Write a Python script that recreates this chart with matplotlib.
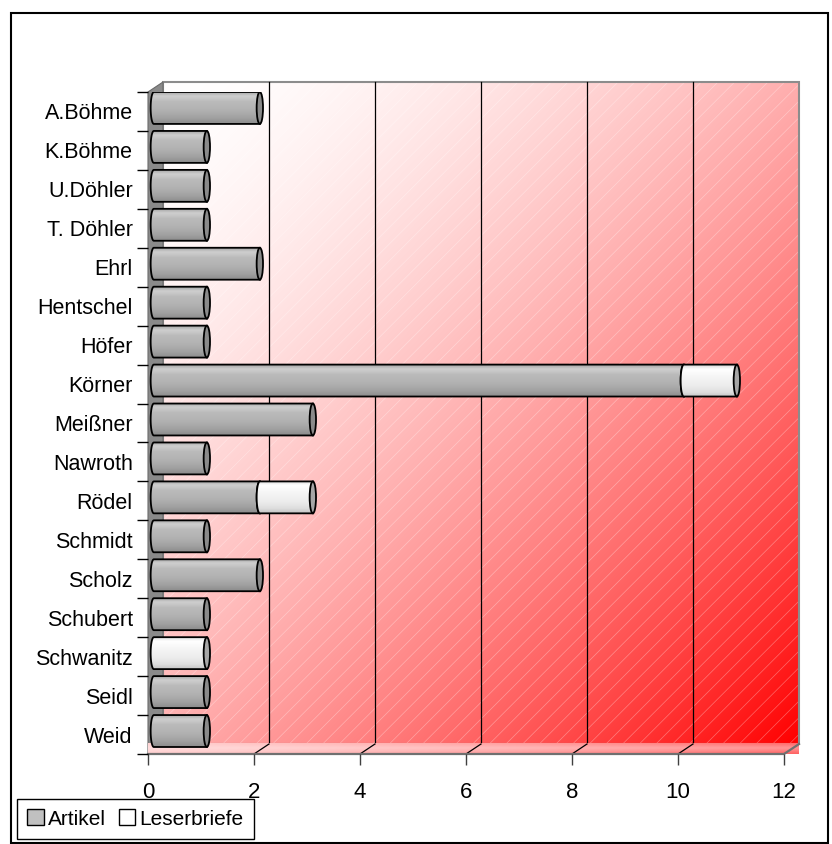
import numpy as np
import matplotlib
matplotlib.use('Agg')
import matplotlib.pyplot as plt
from matplotlib.patches import Rectangle, Polygon, PathPatch, Ellipse, Patch
from matplotlib.path import Path
from matplotlib.colors import LinearSegmentedColormap

plt.rcParams['font.family'] = ['Liberation Sans', 'DejaVu Sans']
plt.rcParams['hatch.linewidth'] = 0.5

# data
names = ['A.Böhme', 'K.Böhme', 'U.Döhler', 'T. Döhler', 'Ehrl', 'Hentschel', 'Höfer',
         'Körner', 'Meißner', 'Nawroth', 'Rödel', 'Schmidt', 'Scholz', 'Schubert',
         'Schwanitz', 'Seidl', 'Weid']
artikel = [2, 1, 1, 1, 2, 1, 1, 10, 3, 1, 2, 1, 2, 1, 0, 1, 1]
leserbriefe = [0, 0, 0, 0, 0, 0, 0, 1, 0, 0, 1, 0, 0, 0, 1, 0, 0]
series = ['Artikel', 'Leserbriefe']
xticks = [0, 2, 4, 6, 8, 10, 12]

W, H = 832, 844
fig = plt.figure(figsize=(W / 100, H / 100), dpi=100)
# front plane of the 3d box: x 148..784 px, y 92..754 px
ax = fig.add_axes([148 / W, (H - 754) / H, 636 / W, 662 / H])
n = len(names)
xmax = 12
ax.set_xlim(0, xmax)
ax.set_ylim(0, n)

ddx = 15 / 53.0      # depth offset in x units
ddy = 10 / 38.94     # depth offset in row units

# back wall: white -> red gradient
gx, gy = np.meshgrid(np.linspace(0, 1, 300), np.linspace(0, 1, 300))
t = ((gx + gy) / 2) ** 1.65
wall = np.dstack([np.ones_like(t), 1 - t, 1 - t])
ax.imshow(wall, extent=[ddx, xmax + ddx, ddy, n + ddy], aspect='auto',
          zorder=0.5, clip_on=False, interpolation='bilinear')
ax.add_patch(Rectangle((ddx, ddy), xmax, n, facecolor='none',
                       edgecolor=(1, 1, 1, 0.35), hatch='//', lw=0,
                       zorder=0.6, clip_on=False))
ax.add_patch(Rectangle((ddx, ddy), xmax, n, facecolor='none',
                       edgecolor='#8c8c8c', lw=1.5, zorder=0.65, clip_on=False))
for xv in xticks[1:-1]:
    ax.plot([xv + ddx, xv + ddx], [ddy, n + ddy], color='black', lw=0.9,
            zorder=0.7, clip_on=False)

# left wall
ax.add_patch(Polygon([(0, 0), (0, n), (ddx, n + ddy), (ddx, ddy)], closed=True,
                     facecolor='#8a8a8a', edgecolor='#6a6a6a', lw=0.8,
                     zorder=0.8, clip_on=False))

# floor
floor = Polygon([(0, 0), (xmax, 0), (xmax + ddx, ddy), (ddx, ddy)], closed=True,
                facecolor='none', edgecolor='none', zorder=0.9, clip_on=False)
ax.add_patch(floor)
fu = np.linspace(0, 1, 300)[None, :]
fv = np.linspace(0, 1, 20)[:, None]
ft = 0.6 * ((fu + 1) / 2) ** 1.7 * (0.7 + 0.3 * np.abs(fv - 0.45) * 2)
fimg = np.dstack([np.ones_like(ft), 1 - ft, 1 - ft])
im = ax.imshow(fimg, extent=[0, xmax + ddx, 0, ddy], aspect='auto',
               zorder=0.9, clip_on=False, interpolation='bilinear')
im.set_clip_path(floor)
for xv in xticks[1:-1]:
    ax.plot([xv, xv + ddx], [0, ddy], color='black', lw=0.9, zorder=0.95,
            clip_on=False)
ax.plot([0, xmax, xmax + ddx], [0, 0, ddy], color='#707070', lw=1.6,
        zorder=0.96, clip_on=False)

# cylinder bars
gray_cm = LinearSegmentedColormap.from_list('g', [
    (0, '#a9a9a9'), (0.12, '#cfcfcf'), (0.3, '#bababa'), (0.55, '#b2b2b2'),
    (0.8, '#a2a2a2'), (1.0, '#8c8c8c')])
white_cm = LinearSegmentedColormap.from_list('w', [
    (0, '#dcdcdc'), (0.12, '#ffffff'), (0.35, '#f6f6f6'), (0.65, '#ececec'),
    (0.85, '#dfdfdf'), (1.0, '#c6c6c6')])
grad = np.linspace(0, 1, 64)[:, None]

bar_off = 0.11   # bars sit a bit into the depth
ew = 0.12        # width of the end ellipse
bh = 0.82        # bar height in rows


def cylinder(x0, x1, ytop, cmap, capcolor, z):
    ybot = ytop - bh
    yc = ytop - bh / 2
    ang = np.radians(np.linspace(270, 90, 40))
    arc = np.column_stack([x0 + ew / 2 * np.cos(ang), yc + bh / 2 * np.sin(ang)])
    verts = np.vstack([[[x0, ytop], [x1, ytop], [x1, ybot], [x0, ybot]], arc,
                       [[x0, ytop]]])
    codes = [Path.MOVETO] + [Path.LINETO] * (len(verts) - 2) + [Path.CLOSEPOLY]
    body = PathPatch(Path(verts, codes), facecolor='none', edgecolor='black',
                     lw=1.3, zorder=z + 0.1)
    ax.add_patch(body)
    img = ax.imshow(grad, cmap=cmap, extent=[x0 - ew, x1, ybot, ytop],
                    aspect='auto', zorder=z, interpolation='bilinear')
    img.set_clip_path(body)
    ax.add_patch(Ellipse((x1, yc), ew, bh, facecolor=capcolor,
                         edgecolor='black', lw=1.3, zorder=z + 0.2))


for k in range(n):
    ytop = n - k
    start = bar_off
    z = 2 + k * 0.01
    if artikel[k] > 0:
        cylinder(start, start + artikel[k], ytop, gray_cm, '#8a8a8a', z)
    start += artikel[k]
    if leserbriefe[k] > 0:
        cylinder(start, start + leserbriefe[k], ytop, white_cm, '#a6a6a6', z + 0.5)

ax.set_xlim(0, xmax)
ax.set_ylim(0, n)

# axes / ticks
for s in ax.spines.values():
    s.set_visible(False)
ax.set_xticks(xticks)
ax.set_xticklabels([str(v) for v in xticks], fontsize=16)
ax.tick_params(axis='x', length=8, width=1, color='#404040', pad=12)
ax.set_yticks(range(n + 1))
ax.set_yticklabels([''] * (n + 1))
ax.set_yticks([n - k - 0.5 for k in range(n)], minor=True)
ax.set_yticklabels(names, minor=True, fontsize=15.5)
ax.tick_params(axis='y', which='major', length=8, width=1, color='black')
ax.tick_params(axis='y', which='minor', length=0, pad=11)

# legend
handles = [Patch(facecolor='#c0c0c0', edgecolor='black', lw=1),
           Patch(facecolor='white', edgecolor='black', lw=1)]
leg = fig.legend(handles, series, loc='lower left',
                 bbox_to_anchor=(17 / W, 5 / H), ncol=2, frameon=True,
                 fancybox=False, edgecolor='black', framealpha=1,
                 borderaxespad=0, handlelength=0.8, handleheight=0.8,
                 handletextpad=0.2, columnspacing=0.6, borderpad=0.5,
                 prop={'size': 15})
leg.get_frame().set_linewidth(1)

# outer chart border
fig.add_artist(Rectangle((11 / W, 1 / H), 817 / W, (H - 14) / H,
                         transform=fig.transFigure, facecolor='none',
                         edgecolor='black', lw=1.5))

fig.savefig('out.png', dpi=100)
